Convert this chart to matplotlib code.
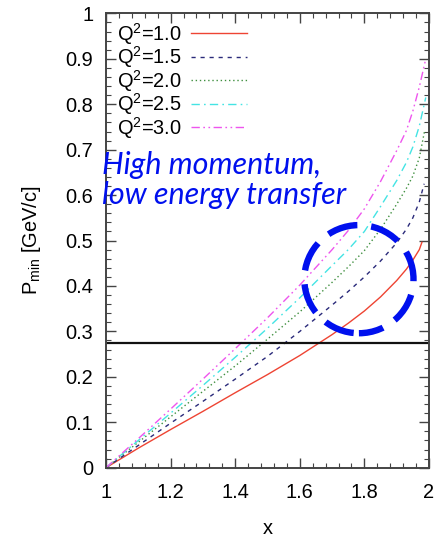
import matplotlib
matplotlib.use("Agg")
import matplotlib.pyplot as plt
from matplotlib.patches import Ellipse
from matplotlib.ticker import MultipleLocator, FuncFormatter

plt.rcParams['font.family'] = ['Liberation Sans', 'DejaVu Sans']
plt.rcParams['mathtext.fontset'] = 'custom'
plt.rcParams['mathtext.rm'] = 'Liberation Sans'
plt.rcParams['mathtext.it'] = 'Liberation Sans:italic'
plt.rcParams['lines.scale_dashes'] = False

# Bjorken x grid shared by all curves
x_grid = [1.0, 1.1, 1.2, 1.3, 1.4, 1.5, 1.6, 1.7, 1.75, 1.8, 1.85, 1.9, 1.93, 1.95, 1.97]

# Minimum missing momentum [GeV/c] for each Q^2 [GeV^2]
q2_labels = ["1.0", "1.5", "2.0", "2.5", "3.0"]
pmin_q2_10 = [0.0, 0.043, 0.084, 0.124, 0.165, 0.205, 0.247, 0.293, 0.318, 0.345, 0.376, 0.412, 0.437, 0.457, 0.480]
pmin_q2_15 = [0.0, 0.049, 0.098, 0.146, 0.195, 0.245, 0.300, 0.358, 0.388, 0.420, 0.455, 0.495, 0.525, 0.550, 0.585]
pmin_q2_20 = [0.0, 0.056, 0.112, 0.168, 0.224, 0.283, 0.343, 0.408, 0.442, 0.478, 0.525, 0.580, 0.615, 0.642, 0.682]
pmin_q2_25 = [0.0, 0.060, 0.120, 0.181, 0.243, 0.307, 0.374, 0.445, 0.480, 0.520, 0.575, 0.632, 0.672, 0.706, 0.752]
pmin_q2_30 = [0.0, 0.064, 0.129, 0.195, 0.262, 0.330, 0.402, 0.480, 0.522, 0.570, 0.630, 0.698, 0.742, 0.785, 0.838]

# last point of each curve (close to the kinematic limit x = 2)
x_end = [1.978, 1.985, 1.986, 1.99, 1.99]
pmin_end = [0.496, 0.625, 0.740, 0.815, 0.900]

# Fermi momentum reference line
k_fermi = 0.2755

series = [pmin_q2_10, pmin_q2_15, pmin_q2_20, pmin_q2_25, pmin_q2_30]
colors = ["#ee4433", "#2a2a7a", "#3f8f3f", "#44e4e4", "#ee55ee"]
dashes = [None, (3.0, 3.5), (1.0, 2.0), (6.0, 3.0, 1.2, 3.0), (6.0, 2.5, 1.2, 2.5, 1.2, 2.5)]

W, H = 439, 537
fig = plt.figure(figsize=(W / 100, H / 100), dpi=100)
ax = fig.add_axes([106 / W, 1 - 467.7 / H, 323 / W, 454.3 / H])

for vals, xe, ye, lab, c, d in zip(series, x_end, pmin_end, q2_labels, colors, dashes):
    xs = x_grid + [xe]
    ys = vals + [ye]
    line, = ax.plot(xs, ys, color=c, lw=1.0, label=r"$\mathregular{Q^2}$=" + lab)
    if d is not None:
        line.set_dashes(d)

ax.axhline(k_fermi, color="#111111", lw=1.6)

# highlighted region
ax.add_patch(Ellipse((1.783, 0.415), 0.338, 0.238, fill=False, edgecolor="#0010ee",
                     lw=4.6, linestyle=(4, (22, 10)), zorder=5))

ax.set_xlim(1, 2)
ax.set_ylim(0, 1)
ax.xaxis.set_major_locator(MultipleLocator(0.2))
ax.xaxis.set_minor_locator(MultipleLocator(0.04))
ax.yaxis.set_major_locator(MultipleLocator(0.1))
ax.yaxis.set_minor_locator(MultipleLocator(0.02))
fmt = FuncFormatter(lambda v, p: "%g" % round(v, 3))
ax.xaxis.set_major_formatter(fmt)
ax.yaxis.set_major_formatter(fmt)
ax.tick_params(which="both", direction="in", top=True, right=True, colors="#444444",
               labelcolor="black", labelsize=14.4)
ax.tick_params(which="major", length=7, width=1.0)
ax.tick_params(which="minor", length=3.5, width=0.8)
ax.tick_params(axis="y", pad=9)
ax.tick_params(axis="x", pad=11)
for s in ax.spines.values():
    s.set_color("#444444")
    s.set_linewidth(1.4)

ax.set_xlabel("x", fontsize=14.4, labelpad=12)
ax.set_ylabel(r"P$_{\mathregular{min}}$ [GeV/c]", fontsize=14.4, labelpad=16)

leg = ax.legend(loc="upper left", bbox_to_anchor=(0.033, 0.984), frameon=False,
                markerfirst=False, fontsize=14.4, handlelength=2.8, handletextpad=0.5,
                labelspacing=-0.12, borderpad=0.0, borderaxespad=0.0)

note_style = dict(color="#0010ee", fontsize=22, family="Lato", style="italic",
                  ha="left", va="baseline")
fig.text(102 / W, 1 - 174 / H, "High momentum,", **note_style)
fig.text(102 / W, 1 - 204 / H, "low energy transfer", **note_style)

fig.savefig("out.png", dpi=100)
